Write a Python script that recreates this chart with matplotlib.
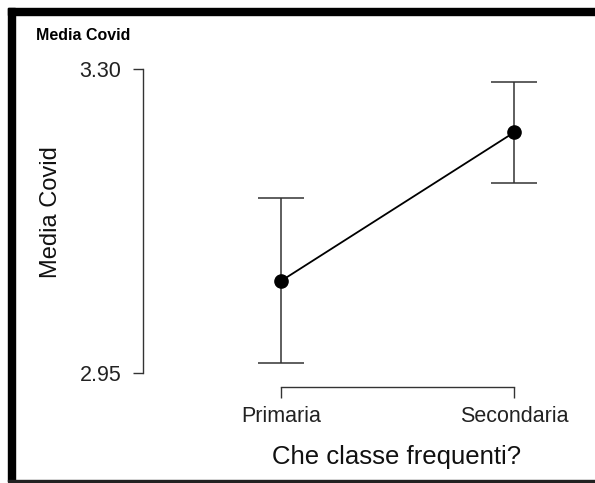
import matplotlib
matplotlib.use("Agg")
import matplotlib.pyplot as plt
from matplotlib.patches import Rectangle
from matplotlib.ticker import FormatStrFormatter

plt.rcParams['font.family'] = ['Liberation Sans', 'DejaVu Sans']

# medie e intervalli per classe
classi = ["Primaria", "Secondaria"]
medie = [3.056, 3.227]
err = [0.095, 0.058]
yticks = [2.95, 3.30]

W, H = 595, 483
fig = plt.figure(figsize=(W / 100, H / 100), dpi=100)
ax = fig.add_axes([143 / W, 1 - 387 / H, (560 - 143) / W, (387 - 60) / H])

x = list(range(len(classi)))
ax.errorbar(x, medie, yerr=err, fmt='none', ecolor='#333333', elinewidth=1.1,
            capsize=16.5, capthick=1.1, zorder=2)
ax.plot(x, medie, color='black', linewidth=1.3, marker='o', markersize=9.5, zorder=3)

ax.set_xlim(-0.5923, 1.1974)
ax.set_ylim(2.9339, 3.3104)
ax.set_xticks(x)
ax.set_xticklabels(classi)
ax.set_yticks(yticks)
ax.yaxis.set_major_formatter(FormatStrFormatter('%.2f'))

for s in ['top', 'right']:
    ax.spines[s].set_visible(False)
ax.spines['left'].set_bounds(yticks[0], yticks[-1])
ax.spines['bottom'].set_bounds(x[0], x[-1])
for s in ['left', 'bottom']:
    ax.spines[s].set_color('#333333')
    ax.spines[s].set_linewidth(1.0)
ax.tick_params(axis='y', length=7.5, width=1.0, color='#333333', pad=8,
               labelsize=15.5, labelcolor='#222222')
ax.tick_params(axis='x', length=8, width=1.0, color='#333333', pad=6,
               labelsize=15.5, labelcolor='#222222')

aw, ah = 560 - 143, 387 - 60
ax.set_xlabel("Che classe frequenti?", fontsize=18.5, color='#111111')
ax.xaxis.set_label_coords((397 - 143) / aw, -(445 - 387) / ah)
ax.set_ylabel("Media Covid", fontsize=17, color='#111111')
ax.yaxis.set_label_coords(-(143 - 62) / aw, (387 - 212) / ah)

fig.text(36 / W, 1 - 36 / H, "Media Covid", fontsize=11.5, fontweight='bold',
         va='center', ha='left', color='black')

# cornice
fig.patches.append(Rectangle((8 / W, 2 / H), 7 / W, (481 - 8) / H,
                             transform=fig.transFigure, color='black', zorder=5))
fig.patches.append(Rectangle((8 / W, 1 - 15 / H), (W - 8) / W, 7 / H,
                             transform=fig.transFigure, color='black', zorder=5))
fig.patches.append(Rectangle((8 / W, 1 / H), (W - 8) / W, 2 / H,
                             transform=fig.transFigure, color='#222222', zorder=5))

fig.savefig("out.png", dpi=100)
